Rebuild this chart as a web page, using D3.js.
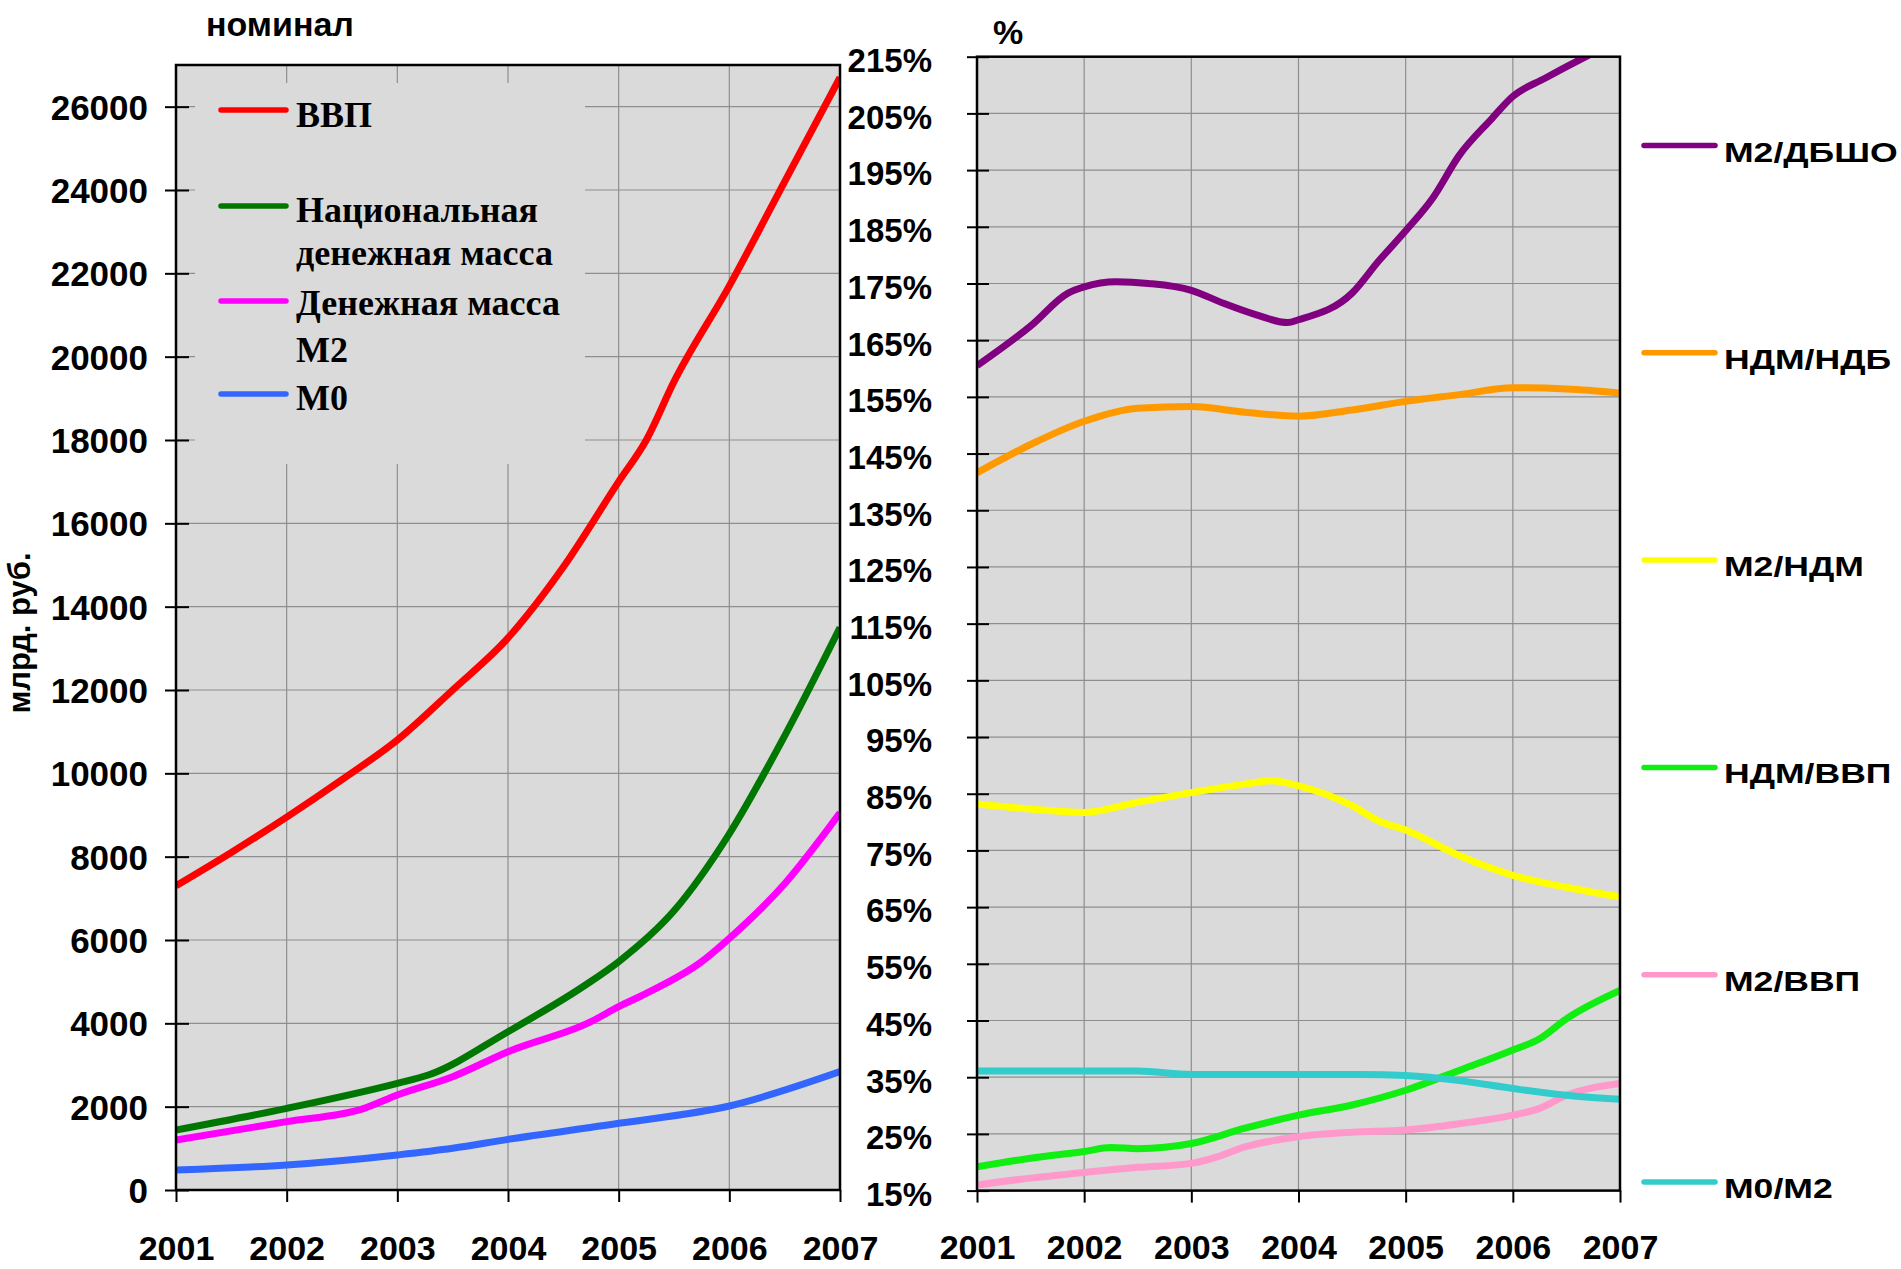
<!DOCTYPE html>
<html>
<head>
<meta charset="utf-8">
<script src="https://cdn.jsdelivr.net/npm/d3@7"></script>
<style>
  body { margin: 0; background: #fff; }
  text { font-family: "Liberation Sans", Arial, sans-serif; font-weight: bold; fill: #000; }
  .serif { font-family: "Liberation Serif", "Times New Roman", serif; }
</style>
</head>
<body>
<svg id="chart" width="1901" height="1269"></svg>
<script>

// --- data ---
var years = [2001, 2002, 2003, 2004, 2005, 2006, 2007];
var leftTicks = [0, 2000, 4000, 6000, 8000, 10000, 12000, 14000, 16000, 18000, 20000, 22000, 24000, 26000];
var rightTicks = [15, 25, 35, 45, 55, 65, 75, 85, 95, 105, 115, 125, 135, 145, 155, 165, 175, 185, 195, 205, 215];

// номинал, млрд. руб.
var gdp = [[2001,7300],[2001.5,8100],[2002,8950],[2002.5,9850],[2003,10800],[2003.5,12000],[2004,13250],
           [2004.5,14950],[2005,17000],[2005.25,18000],[2005.5,19400],[2006,21700],[2006.5,24200],[2007,26700]];
var ndm = [[2001,1440],[2002,1960],[2003,2560],[2003.28,2760],[2004,3800],[2004.7,4920],[2005,5480],
           [2005.5,6700],[2006,8550],[2006.5,10900],[2007,13500]];
var m2 = [[2001,1200],[2002,1640],[2002.7,1960],[2003,2280],[2003.5,2720],[2004,3320],[2004.75,4040],
          [2005,4400],[2005.25,4720],[2005.75,5480],[2006,6040],[2006.5,7350],[2007,9050]];
var m0 = [[2001,480],[2002,600],[2003,840],[2003.5,1000],[2004,1215],[2005,1600],[2006,2016],[2007,2840]];

// отношения, %
var m2dbsho = [[2001,160.5],[2001.5,167.5],[2001.85,173.3],[2002,174.4],[2002.3,175.3],[2002.6,175],[2003,173.8],
               [2003.3,171.5],[2003.6,169.5],[2003.9,168.1],[2004,168.6],[2004.5,173.3],[2004.75,179],[2005,184.3],
               [2005.25,190],[2005.5,197.6],[2005.8,204],[2006,208],[2006.3,211.2],[2006.7,215.2],[2007,218]];
var ndmndb = [[2001,141.6],[2001.5,146.6],[2002,150.7],[2002.5,153],[2003,153.3],[2003.5,152.3],[2004,151.6],
              [2004.5,152.7],[2005,154.2],[2005.5,155.4],[2006,156.6],[2006.5,156.4],[2007,155.7]];
var m2ndm = [[2001,83.2],[2001.5,82.3],[2002,81.7],[2002.5,83.5],[2003,85.2],[2003.5,86.7],[2003.75,87.3],
             [2004,86.4],[2004.5,82.9],[2004.75,80.2],[2005,78.6],[2005.5,74.1],[2005.75,72.2],[2006,70.6],
             [2006.5,68.5],[2007,66.8]];
var ndmvvp = [[2001,19.2],[2001.5,20.7],[2002,21.9],[2002.25,22.6],[2002.5,22.4],[2003,23.3],[2003.5,26],
              [2004,28.3],[2004.5,30.1],[2005,32.7],[2005.5,36.2],[2006,39.8],[2006.25,41.8],[2006.5,45.3],[2007,50.3]];
var m2vvp = [[2001,16],[2001.5,17.2],[2002,18.2],[2002.5,19.1],[2003,19.8],[2003.25,21],[2003.5,22.7],[2004,24.5],
             [2004.5,25.3],[2005,25.7],[2005.5,26.8],[2006,28.3],[2006.25,29.5],[2006.5,31.8],[2007,33.9]];
var m0m2 = [[2001,36.1],[2002,36.1],[2002.5,36.1],[2003,35.5],[2004,35.5],[2004.6,35.5],[2005,35.3],
            [2005.5,34.4],[2006,33],[2006.5,31.8],[2007,31.1]];

var leftSeries = [
  {name: "ВВП", data: gdp, color: "#ff0000"},
  {name: "Национальная денежная масса", data: ndm, color: "#007700"},
  {name: "Денежная масса М2", data: m2, color: "#ff00ff"},
  {name: "М0", data: m0, color: "#3366ff"}
];
var rightSeries = [
  {name: "М2/ДБШО", data: m2dbsho, color: "#800080"},
  {name: "НДМ/НДБ", data: ndmndb, color: "#ff9900"},
  {name: "М2/НДМ", data: m2ndm, color: "#ffff00"},
  {name: "НДМ/ВВП", data: ndmvvp, color: "#11ee11"},
  {name: "М2/ВВП", data: m2vvp, color: "#ff99cc"},
  {name: "М0/М2", data: m0m2, color: "#33cccc"}
];

var svg = d3.select("#chart");
var plotFill = "#dadada", gridColor = "#8e8e8e";

// ================= left chart =================
var L = {left: 176, right: 840, top: 65, bottom: 1190};
var x = d3.scaleLinear().domain([2001, 2007]).range([L.left, L.right]);
var y = d3.scaleLinear().domain([0, 27000]).range([L.bottom, L.top]);

var gl = svg.append("g");
gl.append("rect")
  .attr("x", L.left).attr("y", L.top)
  .attr("width", L.right - L.left).attr("height", L.bottom - L.top)
  .attr("fill", plotFill);

// grid
gl.append("g").selectAll("line")
  .data(leftTicks.slice(1))
  .enter().append("line")
  .attr("x1", L.left).attr("x2", L.right)
  .attr("y1", function(d) { return y(d); }).attr("y2", function(d) { return y(d); })
  .attr("stroke", gridColor).attr("stroke-width", 1.2);
gl.append("g").selectAll("line")
  .data(years.slice(1, -1))
  .enter().append("line")
  .attr("y1", L.top).attr("y2", L.bottom)
  .attr("x1", function(d) { return x(d); }).attr("x2", function(d) { return x(d); })
  .attr("stroke", gridColor).attr("stroke-width", 1.2);

// legend box hides the grid behind it
gl.append("rect")
  .attr("x", 195).attr("y", 83).attr("width", 390).attr("height", 381)
  .attr("fill", plotFill);

gl.append("clipPath").attr("id", "clipL")
  .append("rect")
  .attr("x", L.left).attr("y", L.top)
  .attr("width", L.right - L.left).attr("height", L.bottom - L.top);

var lineL = d3.line()
  .x(function(d) { return x(d[0]); })
  .y(function(d) { return y(d[1]); })
  .curve(d3.curveMonotoneX);

gl.append("g").attr("clip-path", "url(#clipL)")
  .selectAll("path")
  .data(leftSeries)
  .enter().append("path")
  .attr("d", function(d) { return lineL(d.data); })
  .attr("fill", "none")
  .attr("stroke", function(d) { return d.color; })
  .attr("stroke-width", 7)
  .attr("stroke-linejoin", "round");

gl.append("rect")
  .attr("x", L.left).attr("y", L.top)
  .attr("width", L.right - L.left).attr("height", L.bottom - L.top)
  .attr("fill", "none").attr("stroke", "#000").attr("stroke-width", 2.5);

// axes
var axL = gl.append("g")
  .attr("transform", "translate(" + L.left + ",0)")
  .call(d3.axisLeft(y).tickValues(leftTicks).tickSize(11).tickPadding(17).tickFormat(d3.format("d")));
axL.select(".domain").remove();
axL.selectAll("line").attr("x1", 13).attr("x2", -11).attr("stroke", "#000").attr("stroke-width", 2);
axL.selectAll("text").style("font-size", "35px").style("font-family", null).attr("dy", "0.36em");

var axB = gl.append("g")
  .attr("transform", "translate(0," + L.bottom + ")")
  .call(d3.axisBottom(x).tickValues(years).tickSize(12).tickPadding(34).tickFormat(d3.format("d")));
axB.select(".domain").remove();
axB.selectAll("line").attr("stroke", "#000").attr("stroke-width", 2);
axB.selectAll("text").style("font-size", "34px").style("font-family", null);

gl.append("text")
  .attr("x", 206).attr("y", 36)
  .style("font-size", "34px")
  .text("номинал");

gl.append("text")
  .attr("transform", "translate(30,633) rotate(-90)")
  .attr("text-anchor", "middle")
  .style("font-size", "31px")
  .text("млрд. руб.");

// left legend
var legL = [
  {s: 0, ly: 110, lines: [["ВВП", 127]]},
  {s: 1, ly: 206, lines: [["Национальная", 222], ["денежная масса", 265]]},
  {s: 2, ly: 301, lines: [["Денежная масса", 315], ["М2", 362]]},
  {s: 3, ly: 394, lines: [["М0", 410]]}
];
legL.forEach(function(item) {
  gl.append("line")
    .attr("x1", 221).attr("x2", 286)
    .attr("y1", item.ly).attr("y2", item.ly)
    .attr("stroke", leftSeries[item.s].color)
    .attr("stroke-width", 5.5).attr("stroke-linecap", "round");
  item.lines.forEach(function(t) {
    gl.append("text").attr("class", "serif")
      .attr("x", 296).attr("y", t[1])
      .style("font-size", "36px")
      .text(t[0]);
  });
});

// ================= right chart =================
var R = {left: 977, right: 1620, top: 56.7, bottom: 1190.6};
var xr = d3.scaleLinear().domain([2001, 2007]).range([R.left, R.right]);
var yr = d3.scaleLinear().domain([15, 215]).range([R.bottom, R.top]);

var gr = svg.append("g");
gr.append("rect")
  .attr("x", R.left).attr("y", R.top)
  .attr("width", R.right - R.left).attr("height", R.bottom - R.top)
  .attr("fill", plotFill);

gr.append("g").selectAll("line")
  .data(rightTicks.slice(1, -1))
  .enter().append("line")
  .attr("x1", R.left).attr("x2", R.right)
  .attr("y1", function(d) { return yr(d); }).attr("y2", function(d) { return yr(d); })
  .attr("stroke", gridColor).attr("stroke-width", 1.2);
gr.append("g").selectAll("line")
  .data(years.slice(1, -1))
  .enter().append("line")
  .attr("y1", R.top).attr("y2", R.bottom)
  .attr("x1", function(d) { return xr(d); }).attr("x2", function(d) { return xr(d); })
  .attr("stroke", gridColor).attr("stroke-width", 1.2);

gr.append("clipPath").attr("id", "clipR")
  .append("rect")
  .attr("x", R.left).attr("y", R.top)
  .attr("width", R.right - R.left).attr("height", R.bottom - R.top);

var lineR = d3.line()
  .x(function(d) { return xr(d[0]); })
  .y(function(d) { return yr(d[1]); })
  .curve(d3.curveMonotoneX);

gr.append("g").attr("clip-path", "url(#clipR)")
  .selectAll("path")
  .data(rightSeries)
  .enter().append("path")
  .attr("d", function(d) { return lineR(d.data); })
  .attr("fill", "none")
  .attr("stroke", function(d) { return d.color; })
  .attr("stroke-width", 7)
  .attr("stroke-linejoin", "round");

gr.append("rect")
  .attr("x", R.left).attr("y", R.top)
  .attr("width", R.right - R.left).attr("height", R.bottom - R.top)
  .attr("fill", "none").attr("stroke", "#000").attr("stroke-width", 2.5);

var axR = gr.append("g")
  .attr("transform", "translate(" + R.left + ",0)")
  .call(d3.axisLeft(yr).tickValues(rightTicks).tickSize(10).tickPadding(35).tickFormat(function(d) { return d + "%"; }));
axR.select(".domain").remove();
axR.selectAll("line").attr("x1", 12).attr("x2", -10).attr("stroke", "#000").attr("stroke-width", 2);
axR.selectAll("text").style("font-size", "33px").style("font-family", null).attr("dy", "0.45em");

var axRB = gr.append("g")
  .attr("transform", "translate(0," + R.bottom + ")")
  .call(d3.axisBottom(xr).tickValues(years).tickSize(12).tickPadding(32).tickFormat(d3.format("d")));
axRB.select(".domain").remove();
axRB.selectAll("line").attr("stroke", "#000").attr("stroke-width", 2);
axRB.selectAll("text").style("font-size", "34px").style("font-family", null);

gr.append("text")
  .attr("x", 993).attr("y", 44)
  .style("font-size", "34px")
  .text("%");

// right legend
var legR = gr.append("g").selectAll("g")
  .data(rightSeries)
  .enter().append("g")
  .attr("transform", function(d, i) { return "translate(0," + (145.5 + i * 207.3) + ")"; });
legR.append("line")
  .attr("x1", 1644).attr("x2", 1715)
  .attr("stroke", function(d) { return d.color; })
  .attr("stroke-width", 5.5).attr("stroke-linecap", "round");
legR.append("text")
  .attr("transform", "translate(1724,16) scale(1.27,1)")
  .style("font-size", "28px")
  .text(function(d) { return d.name; });

</script>
</body>
</html>
